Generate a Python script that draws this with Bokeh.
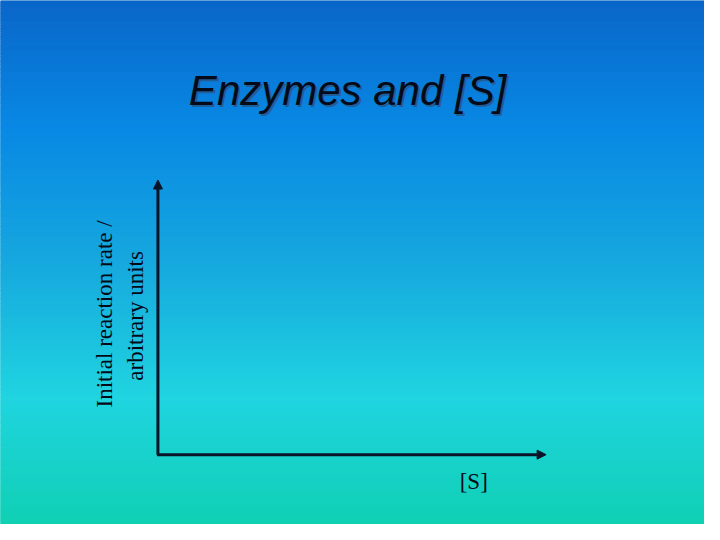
import numpy as np
from bokeh.plotting import figure
from bokeh.models import ColumnDataSource, Range1d, Arrow, NormalHead
from bokeh.core.properties import value
from bokeh.embed import file_html
from bokeh.resources import INLINE

# slide texts
title_text = ["Enzymes and [S]"]
x_label = ["[S]"]
y_label_lines = ["Initial reaction rate /", "arbitrary units"]

# background gradient stops (slide pixel row, colour)
grad_rows = [0, 130, 270, 410, 540]
grad_cols = ["#0a66c8", "#0888e4", "#16a8de", "#20d4e0", "#10d0b4"]

W, H = 720, 540

p = figure(width=704, height=524, x_range=Range1d(0, W), y_range=Range1d(H, 0),
           output_backend="svg", toolbar_location=None, tools="",
           min_border=0, outline_line_color=None)
p.axis.visible = False
p.grid.visible = False


def hex_rgb(h):
    return [int(h[i:i + 2], 16) for i in (1, 3, 5)]


# gradient as thin horizontal stripes (outlined in own colour to hide seams)
rows = np.arange(0, H, 2)
rgb = np.array([hex_rgb(c) for c in grad_cols], dtype=float)
stripe_cols = []
for r in rows:
    c = [np.interp(r + 1, grad_rows, rgb[:, k]) for k in range(3)]
    stripe_cols.append("#%02x%02x%02x" % tuple(int(round(v)) for v in c))
p.quad(left=-2, right=W + 2, top=rows, bottom=rows + 2, fill_color=stripe_cols,
       line_color=stripe_cols, line_width=1.5)

# title with soft shadow
p.text(x=[357], y=[95], text=title_text, text_font=value("Liberation Sans"),
       text_font_style="italic", text_font_size="42px", text_align="center",
       text_baseline="alphabetic", text_color="#2a4f7a", text_alpha=0.7)
p.text(x=[355], y=[93], text=title_text, text_font=value("Liberation Sans"),
       text_font_style="italic", text_font_size="42px", text_align="center",
       text_baseline="alphabetic", text_color="#050a18")

# axes with arrow heads
axis_col = "#0a1428"
p.add_layout(Arrow(end=NormalHead(size=9, fill_color=axis_col, line_color=axis_col),
                   x_start=161, y_start=468, x_end=161, y_end=185,
                   line_width=3, line_color=axis_col))
p.add_layout(Arrow(end=NormalHead(size=9, fill_color=axis_col, line_color=axis_col),
                   x_start=160, y_start=468, x_end=558, y_end=468,
                   line_width=3, line_color=axis_col))

# axis labels
p.text(x=[484], y=[496], text=x_label, text_font=value("Liberation Serif"),
       text_font_size="23px", text_align="center", text_baseline="alphabetic",
       text_color="#050a18")
ysrc = ColumnDataSource(dict(x=[106, 138], y=[323, 325], t=y_label_lines))
p.text(x="x", y="y", text="t", source=ysrc, angle=np.pi / 2,
       text_font=value("Liberation Serif"), text_font_size="23px",
       text_align="center", text_baseline="middle", text_color="#050a18")

open("out.html", "w").write(file_html(p, INLINE))
